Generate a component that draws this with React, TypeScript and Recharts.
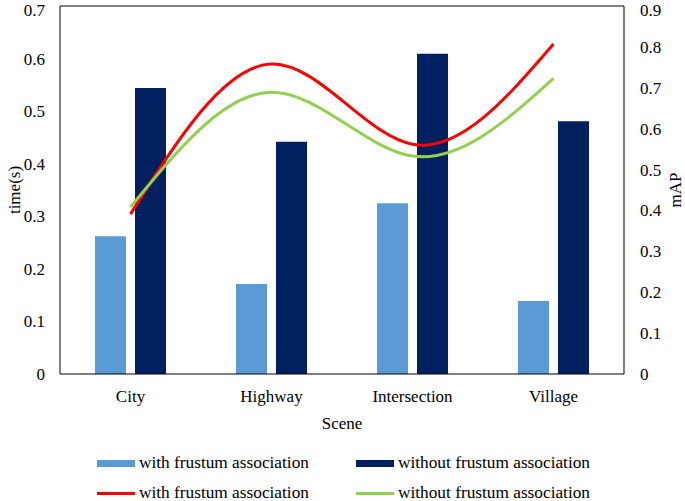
import {
  ComposedChart, Bar, Line, XAxis, YAxis, Legend, ReferenceLine,
} from 'recharts'

const scenes = ['City', 'Highway', 'Intersection', 'Village']
const timeWith = [0.262, 0.171, 0.325, 0.139]
const timeWithout = [0.544, 0.442, 0.609, 0.481]
const mapWith = [0.391, 0.758, 0.562, 0.807]
const mapWithout = [0.408, 0.689, 0.533, 0.723]

const timeTicks = [0, 0.1, 0.2, 0.3, 0.4, 0.5, 0.6, 0.7]
const mapTicks = [0, 0.1, 0.2, 0.3, 0.4, 0.5, 0.6, 0.7, 0.8, 0.9]
const boundaryTicks = [1, 2, 3]

const FONT = '"Liberation Serif", "Times New Roman", serif'
const LIGHT = '#5B9BD5'
const NAVY = '#002060'
const RED = '#FF0000'
const GREEN = '#92D050'

const data = scenes.map((scene, i) => ({
  scene,
  timeWith: timeWith[i],
  timeWithout: timeWithout[i],
  mapWith: mapWith[i],
  mapWithout: mapWithout[i],
}))

const legendItems = [
  { label: 'with frustum association', color: LIGHT, kind: 'bar' },
  { label: 'without frustum association', color: NAVY, kind: 'bar' },
  { label: 'with frustum association', color: RED, kind: 'line' },
  { label: 'without frustum association', color: GREEN, kind: 'line' },
]

const tickStyle = { fontSize: 17, fill: '#000', fontFamily: FONT }
const fmt = (v: number) => String(v)

function ChartLegend() {
  return (
    <div
      style={{
        display: 'grid', gridTemplateColumns: '259px 259px', paddingLeft: 97, paddingTop: 14,
        fontFamily: FONT, fontSize: 17.3, color: '#000',
      }}
    >
      {legendItems.map((item) => (
        <div key={item.kind + item.label} style={{ display: 'flex', alignItems: 'center', height: 30 }}>
          <span
            style={{
              display: 'inline-block', width: 38, height: item.kind === 'bar' ? 7 : 3,
              background: item.color, marginRight: 4,
            }}
          />
          <span style={{ whiteSpace: 'nowrap', lineHeight: '18px' }}>{item.label}</span>
        </div>
      ))}
    </div>
  )
}

function AxisTitle({ viewBox, text, dx }: any) {
  const x = viewBox.x + dx
  const y = viewBox.y + viewBox.height / 2
  return (
    <text
      x={x} y={y} transform={`rotate(-90 ${x} ${y})`} textAnchor="middle" dominantBaseline="central"
      fontSize={17} fontFamily={FONT} fill="#000"
    >
      {text}
    </text>
  )
}

export default function App() {
  return (
    <div style={{ position: 'absolute', left: 0, top: 0, width: 685, height: 501, background: '#fff' }}>
      <ComposedChart
        width={685} height={501} data={data}
        margin={{ top: 6, right: 0, bottom: 0, left: 0 }}
        barSize={31} barGap={9}
        style={{ fontFamily: FONT }}
      >
        <XAxis
          xAxisId="cat" dataKey="scene" tick={tickStyle} tickLine={false} tickSize={0} tickMargin={16}
          axisLine={{ stroke: '#000' }} height={60}
          label={{ value: 'Scene', position: 'insideBottom', offset: 5, fontSize: 17, fill: '#000', fontFamily: FONT }}
        />
        <XAxis
          xAxisId="bounds" type="number" domain={[0, 4]} ticks={boundaryTicks} allowDataOverflow
          mirror tick={false} tickSize={4} tickLine={{ stroke: '#000' }} axisLine={false} height={0}
        />
        <YAxis
          yAxisId="left" domain={[0, 0.7]} ticks={timeTicks} tickFormatter={fmt} tick={tickStyle}
          tickLine={false} tickSize={0} tickMargin={15} axisLine={{ stroke: '#000' }} width={60}
          label={<AxisTitle text="time(s)" dx={14} />}
        />
        <YAxis
          yAxisId="right" orientation="right" domain={[0, 0.9]} ticks={mapTicks} tickFormatter={fmt}
          tick={{ ...tickStyle, textAnchor: 'start' }} tickLine={false} tickSize={0} tickMargin={16}
          axisLine={{ stroke: '#000' }} width={61}
          label={<AxisTitle text="mAP" dx={51} />}
        />
        <ReferenceLine yAxisId="left" xAxisId="cat" y={0.7} stroke="#000" />
        <Bar xAxisId="cat" yAxisId="left" dataKey="timeWith" fill={LIGHT} isAnimationActive={false} />
        <Bar xAxisId="cat" yAxisId="left" dataKey="timeWithout" fill={NAVY} isAnimationActive={false} />
        <Line
          xAxisId="cat" yAxisId="right" type="natural" dataKey="mapWith" stroke={RED} strokeWidth={3}
          dot={false} isAnimationActive={false}
        />
        <Line
          xAxisId="cat" yAxisId="right" type="natural" dataKey="mapWithout" stroke={GREEN} strokeWidth={3}
          dot={false} isAnimationActive={false}
        />
        <Legend verticalAlign="bottom" height={67} content={() => <ChartLegend />} />
      </ComposedChart>
    </div>
  )
}
